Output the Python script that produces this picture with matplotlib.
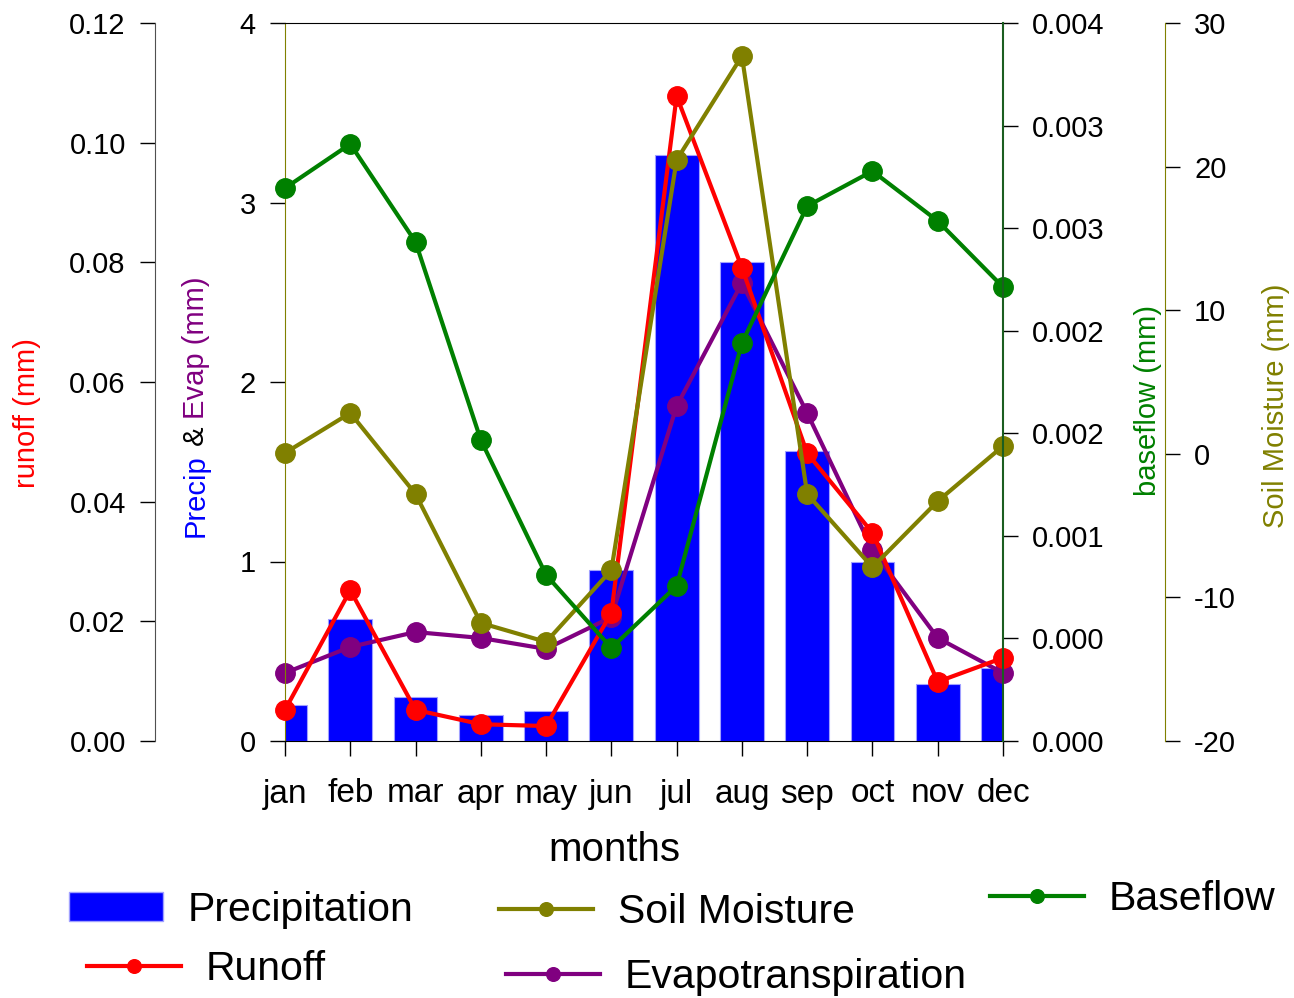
import numpy as np
import matplotlib
matplotlib.use('Agg')
import matplotlib.pyplot as plt
from matplotlib.patches import Patch
from matplotlib.lines import Line2D

plt.rcParams['font.family'] = ['Liberation Sans', 'DejaVu Sans']
plt.rcParams['axes.unicode_minus'] = False

months = ['jan', 'feb', 'mar', 'apr', 'may', 'jun',
          'jul', 'aug', 'sep', 'oct', 'nov', 'dec']
precip = [0.20, 0.68, 0.245, 0.145, 0.167, 0.953, 3.265, 2.668, 1.616, 0.997, 0.318, 0.407]
evap = [0.379, 0.524, 0.607, 0.574, 0.513, 0.69, 1.866, 2.552, 1.827, 1.064, 0.574, 0.379]
runoff = [0.0052, 0.0252, 0.0052, 0.0028, 0.0025, 0.0214, 0.1078, 0.0791, 0.0481, 0.0348, 0.0099, 0.0139]
soil = [0.06, 2.84, -2.8, -11.78, -13.1, -8.1, 20.46, 27.7, -2.8, -7.9, -3.3, 0.54]
baseflow = [0.00308, 0.003326, 0.00278, 0.001677, 0.000925, 0.000518, 0.000864, 0.002217,
            0.00298, 0.003175, 0.002897, 0.002529]

precip_ticks = [0, 1, 2, 3, 4]
runoff_ticks = [0.00, 0.02, 0.04, 0.06, 0.08, 0.10, 0.12]
soil_ticks = [-20, -10, 0, 10, 20, 30]
baseflow_ticks = [0, 0.004 / 7, 0.008 / 7, 0.012 / 7, 0.016 / 7, 0.020 / 7, 0.024 / 7, 0.004]
baseflow_labels = ['0.000', '0.000', '0.001', '0.002', '0.002', '0.003', '0.003', '0.004']

W, H = 1294, 998
fig = plt.figure(figsize=(W / 100, H / 100), dpi=100)
ax = fig.add_axes([285 / W, 1 - 741 / H, 718 / W, 718 / H])
x = np.arange(len(months))

tick_kw = dict(direction='out', length=11, width=1, labelsize=21, pad=10)
line_kw = dict(lw=3, marker='o', ms=14)

# precipitation bars + evapotranspiration
ax.bar(x, precip, width=0.67, color='#0000ff', edgecolor='#a0a0ff', linewidth=0.8)
ax.plot(x, evap, color='#800080', clip_on=False, **line_kw)
ax.set_xlim(0, 11)
ax.set_ylim(0, 4)
ax.set_yticks(precip_ticks)
ax.set_xticks(x)
ax.set_xticklabels(months)
ax.tick_params(axis='y', **tick_kw)
ax.tick_params(axis='x', direction='out', length=11, width=1, labelsize=24, pad=16)
ax.spines['right'].set_visible(False)
ax.spines['left'].set_color('#808000')

# runoff
ax_r = ax.twinx()
ax_r.plot(x, runoff, color='#ff0000', clip_on=False, **line_kw)
ax_r.set_ylim(0, 0.12)
ax_r.set_yticks(runoff_ticks)
ax_r.set_yticklabels(['%.2f' % t for t in runoff_ticks])
ax_r.yaxis.tick_left()

# soil moisture
ax_s = ax.twinx()
ax_s.plot(x, soil, color='#808000', clip_on=False, **line_kw)
ax_s.set_ylim(-20, 30)
ax_s.set_yticks(soil_ticks)

# baseflow
ax_b = ax.twinx()
ax_b.plot(x, baseflow, color='#008000', clip_on=False, **line_kw)
ax_b.set_ylim(0, 0.004)
ax_b.set_yticks(baseflow_ticks)
ax_b.set_yticklabels(baseflow_labels)

for a in (ax_r, ax_s, ax_b):
    for s in a.spines.values():
        s.set_visible(False)
    a.tick_params(axis='y', **tick_kw)

ax_r.spines['left'].set_visible(True)
ax_r.spines['left'].set_position(('axes', -130 / 718))
ax_r.spines['left'].set_color('#505050')

ax_s.spines['right'].set_visible(True)
ax_s.spines['right'].set_position(('axes', 880 / 718))
ax_s.spines['right'].set_color('#808000')

ax_b.spines['right'].set_visible(True)
ax_b.spines['right'].set_color('#1b5e20')
ax_b.spines['right'].set_linewidth(1.5)

# axis labels
ax.set_xlabel('months', fontsize=29)
ax.xaxis.set_label_coords((614 - 285) / 718, (741 - 831) / 718)

lab_kw = dict(rotation=90, ha='center', va='center', fontsize=21)
fig.text(27 / W, 1 - 413 / H, 'runoff (mm)', color='#ff0000', **lab_kw)
fig.text(1148 / W, 1 - 400 / H, 'baseflow (mm)', color='#008000', **lab_kw)
fig.text(1276 / W, 1 - 406 / H, 'Soil Moisture (mm)', color='#808000', **lab_kw)

# two-colour label, built piece by piece upward
t = fig.text(196 / W, 1 - 537 / H, 'Precip', color='#0000ff',
             rotation=90, ha='center', va='bottom', fontsize=21)
for chunk, col in [(' & ', 'black'), ('Evap (mm)', '#800080')]:
    t = ax.annotate(chunk, xy=(0.5, 1), xycoords=t, color=col, rotation=90,
                    ha='center', va='bottom', fontsize=21, annotation_clip=False)

# one legend per series, placed like the original
leg_kw = dict(loc='center left', frameon=False, fontsize=29.5, borderpad=0,
              borderaxespad=0, handlelength=2.3, handletextpad=0.6, markerscale=0.7)
entries = [
    (Patch(facecolor='#0000ff', edgecolor='#a0a0ff'), 'Precipitation', (69, 910)),
    (Line2D([], [], color='#ff0000', **line_kw), 'Runoff', (87, 969)),
    (Line2D([], [], color='#808000', **line_kw), 'Soil Moisture', (499, 912)),
    (Line2D([], [], color='#800080', **line_kw), 'Evapotranspiration', (506, 977)),
    (Line2D([], [], color='#008000', **line_kw), 'Baseflow', (990, 899)),
]
for h, lab, (px, py) in entries:
    leg = fig.legend([h], [lab], bbox_to_anchor=(px / W, 1 - py / H), **leg_kw)

fig.savefig('out.png', dpi=100)
